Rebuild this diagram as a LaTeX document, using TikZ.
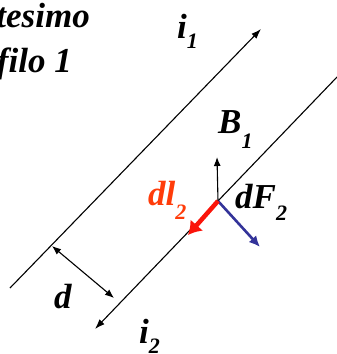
\documentclass[tikz,border=0pt]{standalone}
\usepackage{fontspec}
\setmainfont{Liberation Serif}
\usetikzlibrary{arrows.meta}
\definecolor{dlred}{RGB}{250,20,10}
\definecolor{dltext}{RGB}{255,60,10}
\definecolor{dfblue}{RGB}{51,51,153}
\tikzset{
  wire/.style={line width=1.1pt,-{Latex[length=10pt,width=7pt]}},
  thinvec/.style={line width=1.1pt,-{Latex[length=9pt,width=7pt]}},
  lbl/.style={font=\fontsize{35}{40}\selectfont\bfseries\itshape,inner sep=0pt},
}
\newcommand*\sbs[2][11pt]{\raisebox{-#1}{\fontsize{22}{24}\selectfont #2}}

\begin{document}
\begin{tikzpicture}[x=1pt,y=-1pt]
\clip (0,0) rectangle (337,354);
\useasboundingbox (0,0) rectangle (337,354);

% wires
\coordinate (w1s) at (10,288);
\coordinate (w1e) at (261,29);
\coordinate (w2s) at (338,76);
\coordinate (w2e) at (95,329);
\draw[wire] (w1s) -- (w1e);
\draw[wire] (w2s) -- (w2e);

% distance
\coordinate (da) at (52,246);
\coordinate (db) at (114,298);
\draw[thinvec,{Latex[length=9pt,width=7pt]}-{Latex[length=9pt,width=7pt]}] (da) -- (db);

% vectors on wire 2
\coordinate (p) at (218,201);
\coordinate (btip) at (217,157);
\coordinate (ltip) at (188,235);
\coordinate (ftip) at (260,247);
\draw[thinvec] (p) -- (btip);
\draw[dfblue,line width=2.6pt,-{Latex[length=11pt,width=10pt]}] (p) -- (ftip);
\draw[dlred,line width=4.5pt,-{Latex[length=13pt,width=17pt]}] (p) -- (ltip);

% labels
\node[lbl,anchor=base east] (t1) at (90,27) {tesimo};
\node[lbl,anchor=base east] (t2) at (72,72) {filo 1};
\node[lbl,anchor=base west] (i1) at (177,38) {i\sbs[10pt]{1}};
\node[lbl,anchor=base west] (i2) at (139,343) {i\sbs[10pt]{2}};
\node[lbl,anchor=base west] (b1) at (218,133) {B\sbs[15pt]{1}};
\node[lbl,anchor=base west,text=dltext] (dl) at (148,205) {dl\sbs[14pt]{2}};
\node[lbl,anchor=base west] (df) at (235,208) {dF\sbs[12pt]{2}};
\node[lbl,anchor=base west] (dd) at (54,308) {d};
\end{tikzpicture}
\end{document}
